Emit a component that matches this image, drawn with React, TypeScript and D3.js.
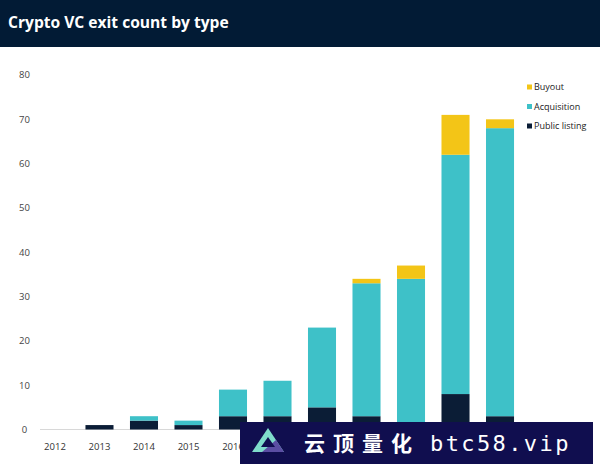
import React from "react";
import * as d3 from "d3";

const years = ["2012", "2013", "2014", "2015", "2016", "2017", "2018", "2019", "2020", "2021", "2022"];
// Only the labels visible in the reference (later ones are covered by the watermark banner)
const xTickLabels = ["2012", "2013", "2014", "2015", "2016"];
const publicListing = [0, 1, 2, 1, 3, 3, 5, 3, 1, 8, 3];
const acquisition = [0, 0, 1, 1, 6, 8, 18, 30, 33, 54, 65];
const buyout = [0, 0, 0, 0, 0, 0, 0, 1, 3, 9, 2];
const yTicks = [0, 10, 20, 30, 40, 50, 60, 70, 80];
const seriesKeys = ["publicListing", "acquisition", "buyout"];
const seriesNames = ["Public listing", "Acquisition", "Buyout"];
const seriesColors = ["#0b1d36", "#3ec1c8", "#f3c517"];
const legendOrder = [2, 1, 0];

const W = 600;
const H = 464;

export default function App() {
  const rows = years.map((y, i) => ({
    year: y,
    publicListing: publicListing[i],
    acquisition: acquisition[i],
    buyout: buyout[i],
  }));
  const stack = d3.stack<any>().keys(seriesKeys);
  const stacked = stack(rows);

  const x = d3.scaleBand<string>().domain(years).range([24.5, 530.5]).paddingInner(0.37).paddingOuter(0.37);
  const y = d3.scaleLinear().domain([0, 80]).range([429.5, 75]);

  const font = "'Open Sans', 'Noto Sans', sans-serif";

  return (
    <div style={{ position: "fixed", left: 0, top: 0, width: W, height: H }}>
      <svg width={W} height={H} viewBox={`0 0 ${W} ${H}`} style={{ display: "block", background: "#fff" }}>
        <rect x={0} y={0} width={W} height={47} fill="#021b35" />
        <text x={8} y={28} fill="#ffffff" fontFamily={font} fontWeight={700} fontSize={15.6}>
          Crypto VC exit count by type
        </text>

        {yTicks.map((t) => (
          <text key={t} x={24.5} y={y(t)} dy="0.35em" textAnchor="middle" fontFamily={font} fontSize={9.5} fill="#444">
            {t}
          </text>
        ))}

        <line x1={40} x2={522} y1={y(0)} y2={y(0)} stroke="#d8d8d8" strokeWidth={1} />

        {stacked.map((s, si) => (
          <g key={s.key} fill={seriesColors[si]}>
            {s.map((d, i) => {
              const h = y(d[0]) - y(d[1]);
              if (h <= 0) return null;
              return <rect key={i} x={x(years[i])} y={y(d[1])} width={x.bandwidth()} height={h} />;
            })}
          </g>
        ))}

        {xTickLabels.map((t) => (
          <text key={t} x={(x(t) as number) + x.bandwidth() / 2} y={447} dy="0.35em" textAnchor="middle" fontFamily={font} fontSize={9.5} fill="#333">
            {t}
          </text>
        ))}

        {legendOrder.map((si, k) => (
          <g key={si} transform={`translate(527, ${87 + k * 19.5})`}>
            <rect x={0} y={-2.5} width={5} height={5} fill={seriesColors[si]} />
            <text x={7} y={0} dy="0.35em" fontFamily={font} fontSize={9} fill="#222">
              {seriesNames[si]}
            </text>
          </g>
        ))}

        <g>
          <rect x={240} y={422} width={353} height={42} fill="#100e4f" />
          <polygon points="268,428 252,452 284,452" fill="#7fdccb" />
          <polygon points="262,452 284,452 276,440" fill="#5b4ea3" />
          <polygon points="268,437 261,447 275,447" fill="#100e4f" />
          <text x={304} y={451} fill="#ffffff" fontFamily="'Noto Sans CJK SC', sans-serif" fontWeight={700} fontSize={21} letterSpacing={8}>
            云顶量化
          </text>
          <text x={430} y={451} fill="#ffffff" fontFamily="'DejaVu Sans Mono', monospace" fontSize={22} letterSpacing={2.4}>
            btc58.vip
          </text>
        </g>
      </svg>
    </div>
  );
}
